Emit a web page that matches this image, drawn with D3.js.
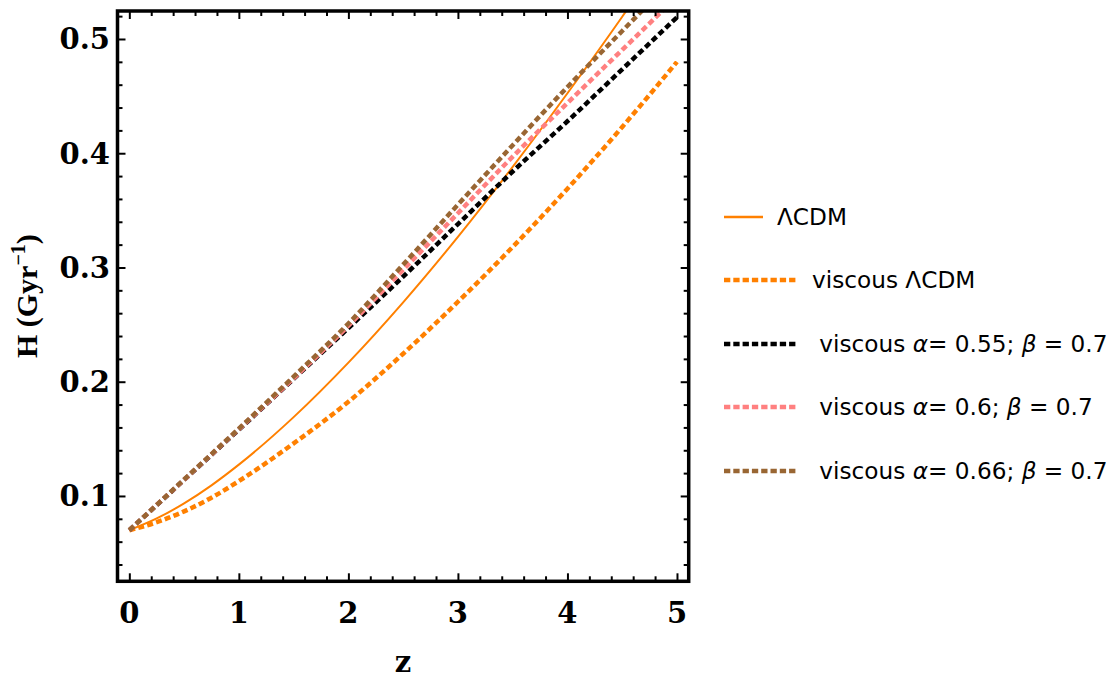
<!DOCTYPE html>
<html>
<head>
<meta charset="utf-8">
<script src="https://cdn.jsdelivr.net/npm/d3@7"></script>
<style>
  body { margin: 0; background: #fff; }
  svg { display: block; }
</style>
</head>
<body>
<script>

// data
const zValues = [0, 0.25, 0.5, 0.75, 1, 1.5, 2, 2.5, 3, 3.5, 4, 4.5, 5]
const hLCDM = [0.07, 0.0803, 0.0935, 0.1093, 0.1274, 0.169, 0.2167, 0.2695, 0.3268, 0.3881, 0.4525, 0.5195, 0.5900]
const hViscousLCDM = [0.07, 0.077, 0.0865, 0.0985, 0.113, 0.146, 0.1825, 0.2245, 0.27, 0.318, 0.369, 0.423, 0.48]
const hAlpha055 = [0.07, 0.092, 0.114, 0.136, 0.158, 0.2025, 0.247, 0.292, 0.338, 0.384, 0.428, 0.4735, 0.519]
const hAlpha060 = [0.07, 0.0921, 0.1142, 0.1363, 0.1585, 0.203, 0.249, 0.298, 0.3475, 0.397, 0.444, 0.4905, 0.537]
const hAlpha066 = [0.07, 0.0922, 0.1145, 0.1367, 0.159, 0.2045, 0.251, 0.3025, 0.355, 0.407, 0.458, 0.507, 0.556]

const seriesNames = ["ΛCDM", "viscous ΛCDM", " viscous α= 0.55; β = 0.7", " viscous α= 0.6; β = 0.7", " viscous α= 0.66; β = 0.7"]
const seriesValues = [hLCDM, hViscousLCDM, hAlpha055, hAlpha060, hAlpha066]
const seriesColors = ["#ff8000", "#ff8000", "#000000", "#ff8080", "#996633"]
const seriesDashed = [false, true, true, true, true]

const xMajorTicks = [0, 1, 2, 3, 4, 5]
const yMajorTicks = [0.1, 0.2, 0.3, 0.4, 0.5]
const xLabel = "z"

/* SVG */

var svg = d3.select("body").append("svg")
  .attr("width", 1114)
  .attr("height", 679)

var pLeft = 117.5, pRight = 688.7, pTop = 11, pBottom = 581.3

var x = d3.scaleLinear().domain([-0.108, 5.107]).range([pLeft, pRight])
var y = d3.scaleLinear().domain([0.0253, 0.5245]).range([pBottom, pTop])

var xMinor = d3.range(0, 5.01, 0.2).filter(d => Math.abs(d - Math.round(d)) > 0.01)
var yMinor = d3.range(0.04, 0.521, 0.02).filter(d => Math.abs(d * 10 - Math.round(d * 10)) > 0.01)

/* CURVES */

svg.append("clipPath").attr("id", "plotclip")
  .append("rect")
  .attr("x", pLeft).attr("y", pTop)
  .attr("width", pRight - pLeft).attr("height", pBottom - pTop)

var line = d3.line()
  .x(d => x(d[0]))
  .y(d => y(d[1]))
  .curve(d3.curveMonotoneX)

var curves = svg.append("g").attr("clip-path", "url(#plotclip)")

seriesValues.forEach(function(vals, i) {
  var pts = zValues.map((z, j) => [z, vals[j]])
  curves.append("path")
    .datum(pts)
    .attr("d", line)
    .attr("fill", "none")
    .attr("stroke", seriesColors[i])
    .attr("stroke-width", seriesDashed[i] ? 4.5 : 2)
    .attr("stroke-dasharray", seriesDashed[i] ? "6,3.3" : null)
})

/* TICKS */

function tickAxis(axis, tx, ty, vals, size) {
  var g = svg.append("g")
    .attr("transform", "translate(" + tx + "," + ty + ")")
    .call(axis.tickValues(vals).tickSize(size).tickFormat(""))
  g.select(".domain").remove()
  g.selectAll(".tick line").attr("stroke", "#000").attr("stroke-width", 2)
}

tickAxis(d3.axisBottom(x), 0, pBottom, xMajorTicks, -8)
tickAxis(d3.axisBottom(x), 0, pBottom, xMinor, -5)
tickAxis(d3.axisTop(x), 0, pTop, xMajorTicks, -8)
tickAxis(d3.axisTop(x), 0, pTop, xMinor, -5)
tickAxis(d3.axisLeft(y), pLeft, 0, yMajorTicks, -8)
tickAxis(d3.axisLeft(y), pLeft, 0, yMinor, -5)
tickAxis(d3.axisRight(y), pRight, 0, yMajorTicks, -8)
tickAxis(d3.axisRight(y), pRight, 0, yMinor, -5)

/* FRAME */

svg.append("rect")
  .attr("x", pLeft).attr("y", pTop)
  .attr("width", pRight - pLeft).attr("height", pBottom - pTop)
  .attr("fill", "none")
  .attr("stroke", "#000")
  .attr("stroke-width", 3.5)

/* TICK LABELS */

var tickFont = "'DejaVu Serif', serif"

svg.selectAll("text.xtick")
  .data(xMajorTicks)
  .enter()
  .append("text")
  .attr("class", "xtick")
  .attr("x", d => x(d))
  .attr("y", 623)
  .attr("text-anchor", "middle")
  .attr("font-family", tickFont)
  .attr("font-weight", "bold")
  .attr("font-size", "29px")
  .text(d => d)

svg.selectAll("text.ytick")
  .data(yMajorTicks)
  .enter()
  .append("text")
  .attr("class", "ytick")
  .attr("x", 110)
  .attr("y", d => y(d) + 10.5)
  .attr("text-anchor", "end")
  .attr("font-family", tickFont)
  .attr("font-weight", "bold")
  .attr("font-size", "29px")
  .text(d => d3.format(".1f")(d))

/* AXIS LABELS */

svg.append("text")
  .attr("x", (pLeft + pRight) / 2)
  .attr("y", 672)
  .attr("text-anchor", "middle")
  .attr("font-family", tickFont)
  .attr("font-weight", "bold")
  .attr("font-size", "29px")
  .text(xLabel)

var ylab = svg.append("text")
  .attr("transform", "translate(37," + ((pTop + pBottom) / 2) + ") rotate(-90)")
  .attr("text-anchor", "middle")
  .attr("font-family", "'Liberation Serif', serif")
  .attr("font-weight", "bold")
  .attr("font-size", "30px")
ylab.append("tspan").text("H (Gyr")
ylab.append("tspan").attr("dy", -12).attr("font-size", "20px").text("−1")
ylab.append("tspan").attr("dy", 12).text(")")

/* LEGEND */

var legendY = [217, 280, 344, 407, 471]

seriesNames.forEach(function(name, i) {
  var x0 = 724
  var x1 = seriesDashed[i] ? 798 : 763
  svg.append("line")
    .attr("x1", x0).attr("x2", x1)
    .attr("y1", legendY[i]).attr("y2", legendY[i])
    .attr("stroke", seriesColors[i])
    .attr("stroke-width", seriesDashed[i] ? 4.5 : 2.5)
    .attr("stroke-dasharray", seriesDashed[i] ? "6.3,3" : null)

  var t = svg.append("text")
    .attr("x", x1 + 14)
    .attr("y", legendY[i] + 8)
    .attr("font-family", "'DejaVu Sans', sans-serif")
    .attr("font-size", "23.2px")
    .attr("fill", "#000")
    .style("white-space", "pre")
  name.split(/([αβ])/).forEach(function(part) {
    if (part == "") return
    var s = t.append("tspan").text(part)
    if (part == "α" || part == "β") s.attr("font-style", "italic")
  })
})

</script>
</body>
</html>
